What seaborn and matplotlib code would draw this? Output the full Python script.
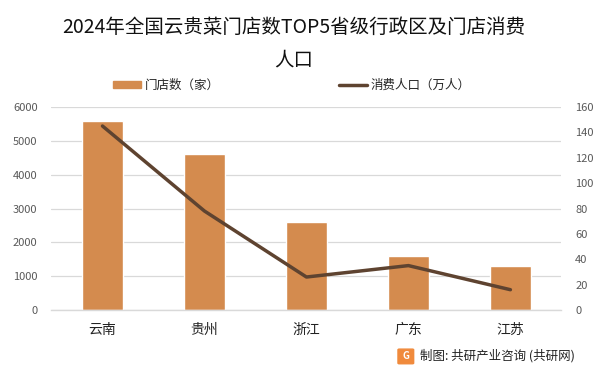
import numpy as np
import pandas as pd
import seaborn as sns
import matplotlib.pyplot as plt
from matplotlib.lines import Line2D
from matplotlib.patches import Patch, FancyBboxPatch

sns.set_style('white')
plt.rcParams['font.family'] = ['Noto Sans CJK SC', 'DejaVu Sans']

provinces = ['云南', '贵州', '浙江', '广东', '江苏']
stores = [5600, 4600, 2600, 1600, 1300]          # 门店数（家）
population = [145, 78, 26, 35, 16]               # 消费人口（万人）
left_ticks = [0, 1000, 2000, 3000, 4000, 5000, 6000]
right_ticks = [0, 20, 40, 60, 80, 100, 120, 140, 160]

bar_color = '#D48B4E'
line_color = '#5E4330'
grid_color = '#D9D9D9'
tick_color = '#595959'

df = pd.DataFrame({'province': provinces, 'stores': stores, 'population': population})

fig = plt.figure(figsize=(6.03, 3.75), dpi=100)
ax = fig.add_axes([0.0854, 0.1733, 0.8456, 0.5414])

sns.barplot(data=df, x='province', y='stores', color=bar_color, width=0.4,
            saturation=1, ax=ax)
ax.set_ylim(0, 6000)
ax.set_yticks(left_ticks)
ax.yaxis.grid(True, color=grid_color, linewidth=0.9)
ax.set_axisbelow(True)
for s in ['top', 'left', 'right']:
    ax.spines[s].set_visible(False)
ax.spines['bottom'].set_color(grid_color)
ax.spines['bottom'].set_linewidth(1.0)
ax.tick_params(axis='y', length=0, labelsize=8, labelcolor=tick_color, pad=10)
ax.tick_params(axis='x', length=0, labelsize=10, labelcolor='#222222', pad=9)
ax.set_xlabel('')
ax.set_ylabel('')

ax2 = ax.twinx()
sns.lineplot(x=np.arange(len(provinces)), y=population, color=line_color,
             linewidth=2.5, ax=ax2)
ax2.set_ylim(0, 160)
ax2.set_yticks(right_ticks)
ax2.set_xlim(-0.5, len(provinces) - 0.5)
for s in ['top', 'left', 'right', 'bottom']:
    ax2.spines[s].set_visible(False)
ax2.tick_params(axis='y', length=0, labelsize=8, labelcolor=tick_color, pad=10)
ax2.set_ylabel('')

fig.text(0.4876, 0.928, '2024年全国云贵菜门店数TOP5省级行政区及门店消费', ha='center', va='center',
         fontsize=14, color='#111111')
fig.text(0.4876, 0.84, '人口', ha='center', va='center', fontsize=14, color='#111111')

handles = [Patch(color=bar_color, label='门店数（家）'),
           Line2D([0], [0], color=line_color, linewidth=2.5, label='消费人口（万人）')]
fig.legend(handles=handles, loc='center', bbox_to_anchor=(0.484, 0.772), ncol=2,
           frameon=False, fontsize=9, handlelength=2.2, handleheight=0.5,
           columnspacing=9.6, handletextpad=0.3)

# footer
logo = FancyBboxPatch((0.662, 0.032), 0.022, 0.035, boxstyle='round,pad=0.002',
                      transform=fig.transFigure, color='#F08A3C', zorder=5)
fig.patches.append(logo)
fig.text(0.673, 0.05, 'G', ha='center', va='center', color='white', fontsize=7,
         fontweight='bold', zorder=6)
fig.text(0.697, 0.05, '制图: 共研产业咨询 (共研网)', ha='left', va='center',
         fontsize=9, color='#222222')

fig.savefig('out.png', dpi=100)
